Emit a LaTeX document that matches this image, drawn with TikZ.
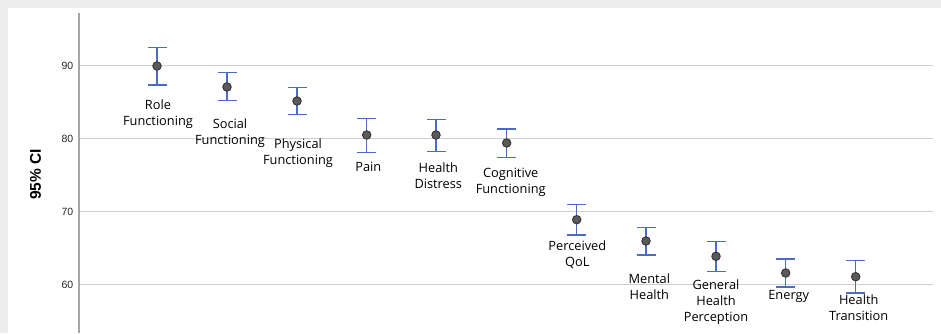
\documentclass[tikz,border=0pt]{standalone}
\usepackage{fontspec}
\setmainfont{Open Sans}
\newfontfamily\arialf{Liberation Sans}
\definecolor{bggray}{HTML}{EDEDED}
\definecolor{gridgray}{HTML}{CFCFCF}
\definecolor{axisgray}{HTML}{A6A6A6}
\definecolor{barblue}{HTML}{4A6CC4}
\definecolor{dotfill}{HTML}{5A5A5A}
\definecolor{dotdraw}{HTML}{333333}
\tikzset{
  gridline/.style={draw=gridgray, line width=1.2pt},
  axisline/.style={draw=axisgray, line width=1.6pt},
  ticklabel/.style={anchor=east, inner sep=0pt, font=\arialf\fontsize{10.5}{12}\selectfont, text=black!85},
  ylab/.style={rotate=90, inner sep=0pt, font=\arialf\bfseries\fontsize{15.5}{18}\selectfont},
  cibar/.style={draw=barblue, line width=1.4pt},
  meandot/.style={circle, fill=dotfill, draw=dotdraw, line width=0.9pt, minimum size=8.5pt, inner sep=0pt},
  catlabel/.style={anchor=north, inner sep=0pt, align=center, font=\fontsize{12.8}{16}\selectfont, text=black}
}
\begin{document}
\begin{tikzpicture}[x=1pt,y=-1pt]
\useasboundingbox (0,0) rectangle (941,333);
\fill[bggray] (0,0) rectangle (941,333);
\fill[white] (8,8) rectangle (941,333);
% gridlines
\foreach \yy in {65.7,138.7,211.7,284.7}{
  \draw[gridline] (80,\yy) -- (933,\yy);
}
% axis
\coordinate (axtop) at (79,13);
\coordinate (axbot) at (79,333);
\draw[axisline] (axtop) -- (axbot);
% tick labels
\node[ticklabel] (t90) at (73.5,65.7) {90};
\node[ticklabel] (t80) at (73.5,138.7) {80};
\node[ticklabel] (t70) at (73.5,211.7) {70};
\node[ticklabel] (t60) at (73.5,284.7) {60};
\node[ylab] (ylabel) at (35.5,174.5) {95\% CI};
% error bars: name / x / mean / upper / lower
\foreach \n/\xx/\mm/\up/\lo in {
  rf/157/66/47.3/85,
  sf/227/87/72.3/100.7,
  pf/297/101/87.3/114.3,
  pa/366.7/135/118.3/152.3,
  hd/436/135/119.7/151.7,
  cf/506.7/143/129/157.3,
  pq/576.7/219.7/204.3/235,
  mh/646/241/227.7/255,
  gh/716/256.3/241.3/271.7,
  en/785.7/273/259/287,
  ht/855.7/276.7/260.7/293}{
  \coordinate (\n-up) at (\xx,\up);
  \coordinate (\n-lo) at (\xx,\lo);
  \draw[cibar] (\n-up) -- (\n-lo);
  \draw[cibar] ([xshift=-9.5pt]\n-up) -- ([xshift=9.5pt]\n-up);
  \draw[cibar] ([xshift=-9.5pt]\n-lo) -- ([xshift=9.5pt]\n-lo);
  \node[meandot] (\n-m) at (\xx,\mm) {};
}
% category labels (north = first baseline - 11.2)
\node[catlabel] (l-rf) at (158,98.1) {\strut Role\\Functioning};
\node[catlabel] (l-sf) at (230,117.1) {\strut Social\\Functioning};
\node[catlabel] (l-pf) at (298,137.5) {\strut Physical\\Functioning};
\node[catlabel] (l-pa) at (368.3,160.2) {\strut Pain};
\node[catlabel] (l-hd) at (438.3,160.8) {\strut Health\\Distress};
\node[catlabel] (l-cf) at (510.7,165.8) {\strut Cognitive\\Functioning};
\node[catlabel] (l-pq) at (577.3,239.2) {\strut Perceived\\QoL};
\node[catlabel] (l-mh) at (649.3,271.8) {\strut Mental\\Health};
\node[catlabel] (l-gh) at (716,278.5) {\strut General\\Health\\Perception};
\node[catlabel] (l-en) at (788.7,288.5) {\strut Energy};
\node[catlabel] (l-ht) at (858.7,293.2) {\strut Health\\Transition};
\end{tikzpicture}
\end{document}
